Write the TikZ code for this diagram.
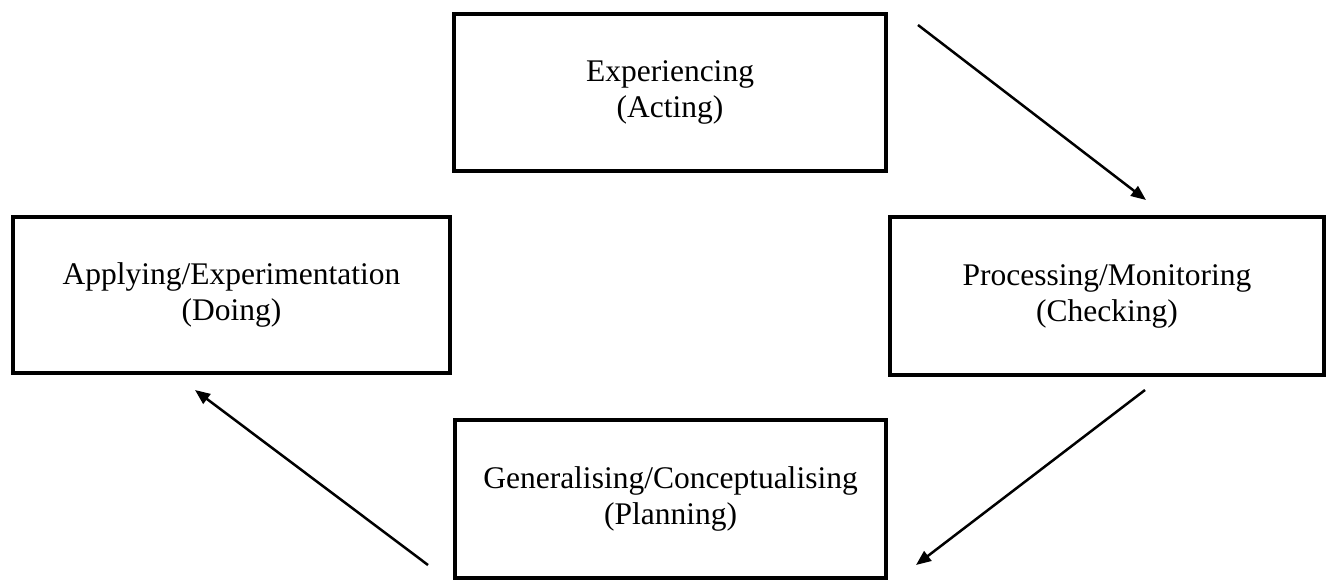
\documentclass[tikz,border=0pt]{standalone}
\usepackage{fontspec}
\setmainfont{Liberation Serif}
\usetikzlibrary{arrows.meta}
\tikzset{
  box/.style={draw=black, line width=4pt, inner sep=0pt, align=center,
    font=\fontsize{31.5}{36}\selectfont},
  conn/.style={draw=black, line width=2.5pt, -{Triangle[length=15pt,width=12pt]}}
}
\begin{document}
\begin{tikzpicture}[x=1pt,y=-1pt]
\useasboundingbox[fill=white] (0,0) rectangle (1328,579);
\node[box, minimum width=432pt, minimum height=157pt] (exp) at (670,92.5) {Experiencing\\(Acting)};
\node[box, minimum width=437pt, minimum height=156pt] (app) at (231.5,295) {Applying/Experimentation\\(Doing)};
\node[box, minimum width=434pt, minimum height=158pt] (proc) at (1107,296) {Processing/Monitoring\\(Checking)};
\node[box, minimum width=431pt, minimum height=158pt] (gen) at (670.5,499) {Generalising/Conceptualising\\(Planning)};
\coordinate (a1s) at (918,25);
\coordinate (a1e) at (1146,200);
\coordinate (a2s) at (1145,390);
\coordinate (a2e) at (916,565);
\coordinate (a3s) at (428,565);
\coordinate (a3e) at (195,390);
\draw[conn] (a1s) -- (a1e);
\draw[conn] (a2s) -- (a2e);
\draw[conn] (a3s) -- (a3e);
\end{tikzpicture}
\end{document}
